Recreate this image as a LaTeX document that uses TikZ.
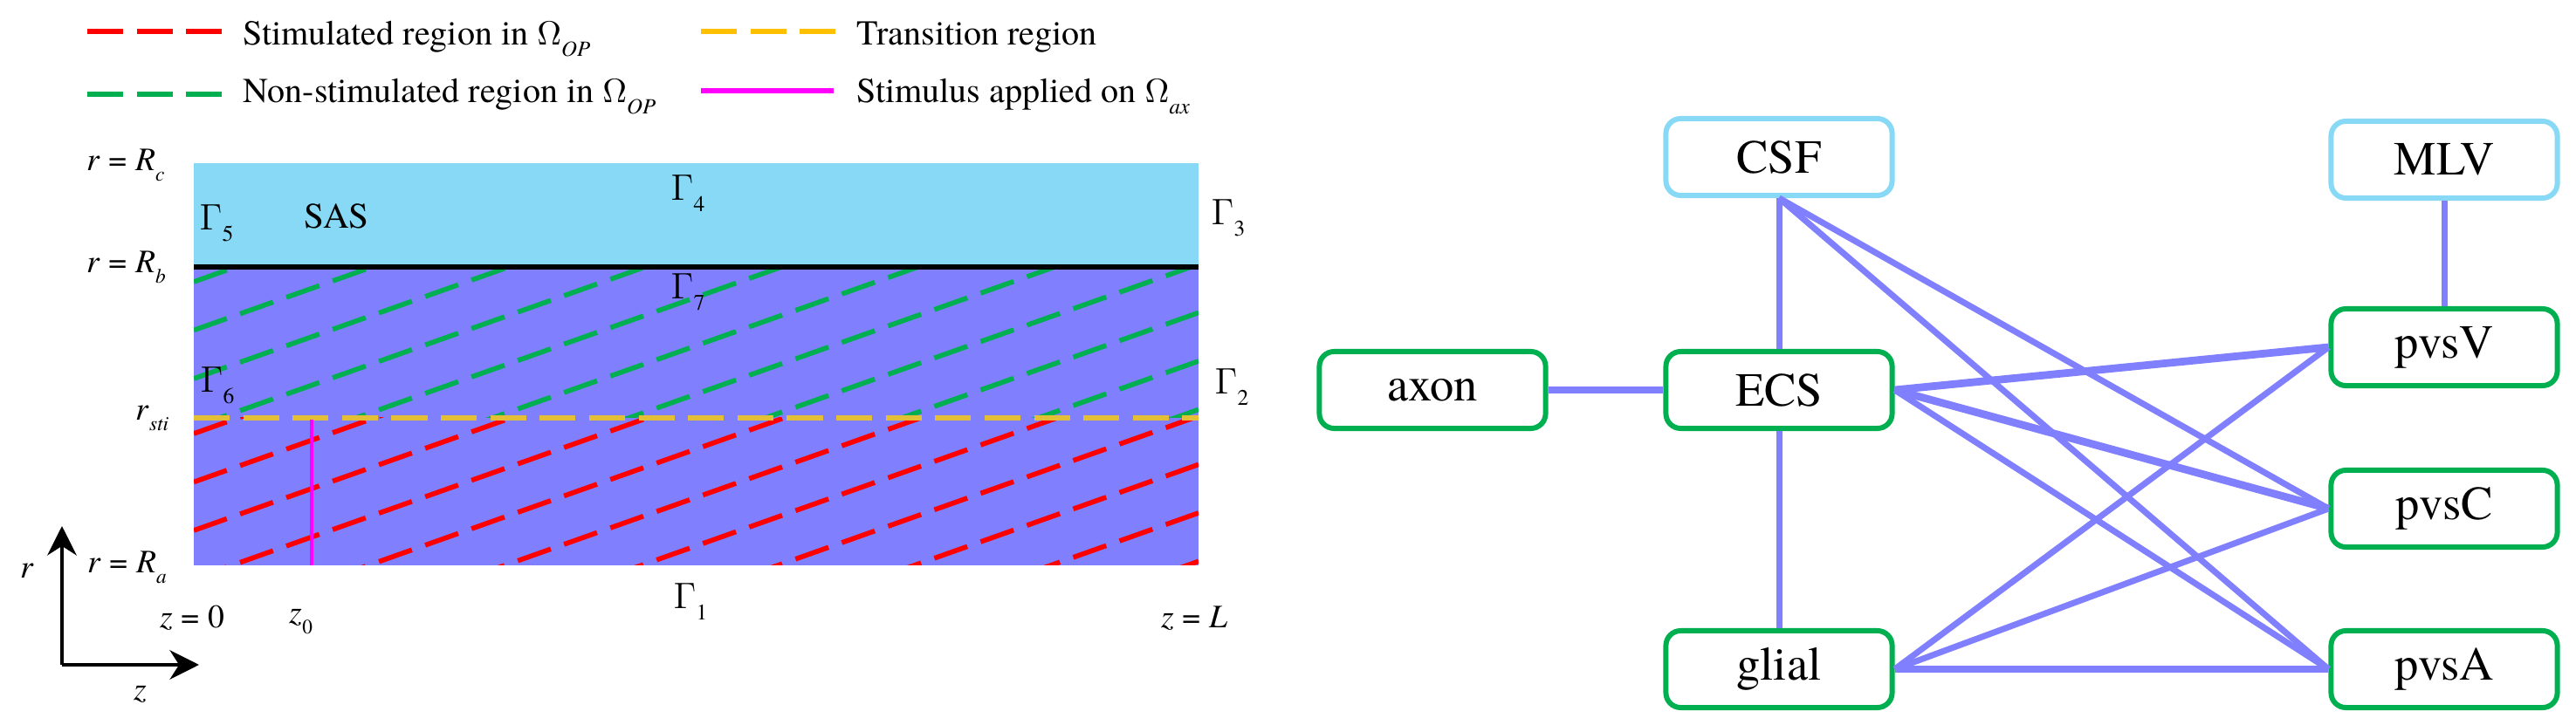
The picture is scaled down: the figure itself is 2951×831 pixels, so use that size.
\documentclass[tikz,border=0pt]{standalone}
\usepackage{fontspec}
\IfFontExistsTF{texgyretermes-regular.otf}
  {\setmainfont{texgyretermes}[Extension=.otf, UprightFont=*-regular, ItalicFont=*-italic, BoldFont=*-bold, BoldItalicFont=*-bolditalic]}
  {}
\usepackage{graphicx}
\usetikzlibrary{arrows.meta}
\definecolor{sascol}{HTML}{87D9F5}
\definecolor{opcol}{HTML}{8080FF}
\definecolor{grcol}{HTML}{00B050}
\definecolor{rdcol}{HTML}{FF0000}
\definecolor{ylcol}{HTML}{FFC000}
\definecolor{ylfig}{HTML}{E3BF37}
\definecolor{mgcol}{HTML}{FF00FF}
\definecolor{edgecol}{HTML}{8080FF}
\newcommand\Sb[1]{\raisebox{-0.3em}{\scalebox{0.62}{#1}}}
\newcommand\iv[1]{\textit{#1}}
\newcommand\Gm{$\Gamma$}
\newcommand\Om{$\Omega$}
\tikzset{
  hatchline/.style={line width=1.6pt, dash pattern=on 11.4pt off 4.6pt},
  dashleg/.style={line width=1.5pt, dash pattern=on 11.7pt off 4.4pt},
  gamlbl/.style={inner sep=0, anchor=base west, font=\fontsize{11.7}{13}\selectfont},
  leglbl/.style={inner sep=0, anchor=base west, font=\fontsize{11.4}{13}\selectfont},
  rlbl/.style={inner sep=0, anchor=base west, font=\fontsize{10.7}{12}\selectfont},
  gbox/.style={draw=grcol, line width=1.7pt, rounded corners=4.8pt, fill=white,
    minimum width=2.59cm, minimum height=0.88cm, inner sep=0,
    font=\fontsize{15.5}{18}\selectfont},
  cbox/.style={gbox, draw=sascol},
  lnk/.style={draw=edgecol, line width=2pt},
  lnkb/.style={draw=edgecol, line width=2.5pt},
  axisarrow/.style={line width=1.3pt, -{Stealth[length=9.5pt,width=9.5pt,inset=3pt]}}
}
\begin{document}
\begin{tikzpicture}[x=0.01cm, y=-0.01cm]
\useasboundingbox (0,0) rectangle (2951,831);

% ---------- legend ----------
\draw[dashleg, rdcol] (100,36) -- (255,36);
\node[leglbl] (l1) at (278,52) {Stimulated region in \Om\Sb{\itshape OP}};
\draw[dashleg, grcol] (100,108) -- (255,108);
\node[leglbl] (l2) at (278,118) {Non-stimulated region in \Om\Sb{\itshape OP}};
\draw[dashleg, ylcol] (803,36) -- (958,36);
\node[leglbl] (l3) at (981,52) {Transition region};
\draw[line width=1.5pt, mgcol] (803,104) -- (955,104);
\node[leglbl] (l4) at (981,118) {Stimulus applied on \Om\Sb{\itshape ax}};

% ---------- domain ----------
\fill[sascol] (222,187) rectangle (1373,306);
\fill[opcol] (222,306) rectangle (1373,648);
\begin{scope}
  \clip (222,306) rectangle (1373,479);
  \foreach \k in {0,...,10}
    \draw[hatchline, grcol] (222,{323+55.5*\k}) -- ++(1151,-408.6);
\end{scope}
\begin{scope}
  \clip (222,479) rectangle (1373,648);
  \foreach \k in {0,...,10}
    \draw[hatchline, rdcol] (222,{497+55.5*\k}) -- ++(1151,-408.6);
\end{scope}
\draw[line width=1.5pt, black] (222,306) -- (1373,306);
\draw[dashleg, ylfig] (222,479) -- (1373,479);
\draw[line width=1.2pt, mgcol] (357,481) -- (357,648);

% boundary labels
\node[gamlbl] (g5) at (228,264) {\Gm\Sb{5}};
\node[gamlbl] (g6) at (229,450) {\Gm\Sb{6}};
\node[gamlbl] (g4) at (768,230) {\Gm\Sb{4}};
\node[gamlbl] (g7) at (768,343) {\Gm\Sb{7}};
\node[gamlbl] (g3) at (1387,258) {\Gm\Sb{3}};
\node[gamlbl] (g2) at (1391,452) {\Gm\Sb{2}};
\node[gamlbl] (g1) at (771,698) {\Gm\Sb{1}};
\node[gamlbl] (sas) at (348,262) {SAS};

\node[rlbl] (rc) at (99,196) {\iv{r} = \iv{R}\Sb{\itshape c}};
\node[rlbl] (rb) at (99,313) {\iv{r} = \iv{R}\Sb{\itshape b}};
\node[rlbl] (rs) at (155,482) {\iv{r}\Sb{\itshape sti}};
\node[rlbl] (ra) at (100,657) {\iv{r} = \iv{R}\Sb{\itshape a}};
\node[rlbl] (z0l) at (183,720) {\iv{z} = 0};
\node[rlbl] (zz0) at (331,715) {\iv{z}\Sb{0}};
\node[rlbl] (zL) at (1330,720) {\iv{z} = \iv{L}};

% axes
\coordinate (axo) at (71,762);
\coordinate (rtip) at (71,603);
\coordinate (ztip) at (228,762);
\draw[axisarrow] (axo) -- (rtip);
\draw[axisarrow] (axo) -- (ztip);
\node[rlbl] (rax) at (23,663) {\iv{r}};
\node[rlbl] (zax) at (153,803) {\iv{z}};

% ---------- graph ----------
\node[cbox] (CSF) at (2038,180) {CSF};
\node[cbox] (MLV) at (2800,183) {MLV};
\node[gbox] (axon) at (1641,447) {axon};
\node[gbox] (ECS) at (2038,447) {ECS};
\node[gbox] (pvsV) at (2800,398) {pvsV};
\node[gbox] (pvsC) at (2800,583) {pvsC};
\node[gbox] (glial) at (2038,767) {glial};
\node[gbox] (pvsA) at (2800,767) {pvsA};

\draw[lnk] (CSF.south) -- (ECS.north);
\draw[lnk] (CSF.south) -- (pvsC.west);
\draw[lnk] (CSF.south) -- (pvsA.west);
\draw[lnk] (MLV.south) -- (pvsV.north);
\draw[lnkb] (axon.east) -- (ECS.west);
\draw[lnkb] (ECS.east) -- (pvsV.west);
\draw[lnkb] (ECS.east) -- (pvsC.west);
\draw[lnk] (ECS.east) -- (pvsA.west);
\draw[lnk] (ECS.south) -- (glial.north);
\draw[lnk] (glial.east) -- (pvsV.west);
\draw[lnk] (glial.east) -- (pvsC.west);
\draw[lnk] (glial.east) -- (pvsA.west);
\end{tikzpicture}
\end{document}
